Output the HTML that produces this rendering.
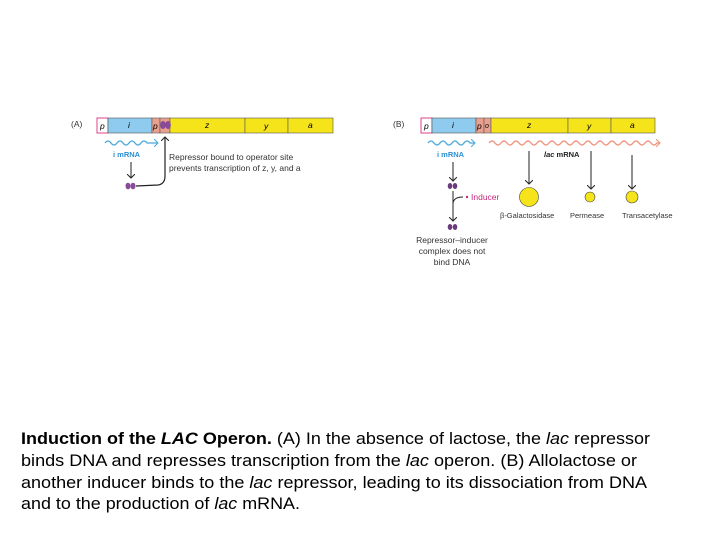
<!DOCTYPE html>
<html><head><meta charset="utf-8"><style>
html,body{margin:0;padding:0;background:#fff;width:720px;height:540px;overflow:hidden}
svg{display:block}
text{font-family:"Liberation Sans",Arial,sans-serif}
</style></head><body>
<svg width="720" height="540" viewBox="0 0 720 540" xmlns="http://www.w3.org/2000/svg">
<defs>
<marker id="ah" markerWidth="8" markerHeight="8" refX="4" refY="4" orient="auto" markerUnits="userSpaceOnUse">
<path d="M0,0 L4,4 L0,8" fill="none" stroke="#222" stroke-width="1"/></marker>
<marker id="ab" markerWidth="8" markerHeight="8" refX="4" refY="4" orient="auto" markerUnits="userSpaceOnUse">
<path d="M0,0 L4,4 L0,8" fill="none" stroke="#4aa8dc" stroke-width="1"/></marker>
<marker id="as" markerWidth="8" markerHeight="8" refX="4" refY="4" orient="auto" markerUnits="userSpaceOnUse">
<path d="M0,0 L4,4 L0,8" fill="none" stroke="#f0907a" stroke-width="1"/></marker>
</defs>
<g font-size="8.5">
<!-- Panel A -->
<text x="71" y="127" fill="#333">(A)</text>
<rect x="97" y="118" width="11" height="15" fill="#fff" stroke="#e0408a"/>
<rect x="108" y="118" width="44" height="15" fill="#8ecbee" stroke="#555" stroke-width="0.6"/>
<rect x="152" y="118" width="8" height="15" fill="#eaa08e" stroke="#555" stroke-width="0.6"/>
<rect x="160" y="118" width="10" height="15" fill="#eaa08e" stroke="#555" stroke-width="0.6"/>
<rect x="170" y="118" width="75" height="15" fill="#f5e41a" stroke="#555" stroke-width="0.6"/>
<rect x="245" y="118" width="43" height="15" fill="#f5e41a" stroke="#555" stroke-width="0.6"/>
<rect x="288" y="118" width="45" height="15" fill="#f5e41a" stroke="#555" stroke-width="0.6"/>
<text x="100" y="129" font-style="italic">p</text><text x="128" y="128" font-style="italic">i</text>
<text x="153" y="129" font-style="italic">p</text>
<ellipse cx="163" cy="125" rx="2.8" ry="4" fill="#8a4a9a"/><ellipse cx="168" cy="125" rx="2.8" ry="4" fill="#8a4a9a"/>
<text x="205" y="128" font-style="italic">z</text><text x="264" y="129" font-style="italic">y</text><text x="308" y="128" font-style="italic">a</text>
<path d="M105,143 q3,-4 6,0 t6,0 t6,0 t6,0 t6,0 t6,0 t6,0 L158,143" fill="none" stroke="#4aa8dc" stroke-width="1.3" marker-end="url(#ab)"/>
<text x="113" y="157" fill="#2a90d0" font-size="7.5" font-weight="bold">i mRNA</text>
<line x1="131" y1="162" x2="131" y2="178" stroke="#222" marker-end="url(#ah)"/>
<ellipse cx="128" cy="186" rx="2.5" ry="3.3" fill="#8a4a9a"/><ellipse cx="133" cy="186" rx="2.5" ry="3.3" fill="#8a4a9a"/>
<path d="M136,186 L158,185 Q165,184 165,176 L165,137" fill="none" stroke="#222" stroke-width="1.2" marker-end="url(#ah)"/>
<text x="169" y="160" fill="#333">Repressor bound to operator site</text>
<text x="169" y="171" fill="#333">prevents transcription of z, y, and a</text>

<!-- Panel B -->
<text x="393" y="127" fill="#333">(B)</text>
<rect x="421" y="118" width="11" height="15" fill="#fff" stroke="#e0408a"/>
<rect x="432" y="118" width="44" height="15" fill="#8ecbee" stroke="#555" stroke-width="0.6"/>
<rect x="476" y="118" width="8" height="15" fill="#eaa08e" stroke="#555" stroke-width="0.6"/>
<rect x="484" y="118" width="7" height="15" fill="#eaa08e" stroke="#555" stroke-width="0.6"/>
<rect x="491" y="118" width="77" height="15" fill="#f5e41a" stroke="#555" stroke-width="0.6"/>
<rect x="568" y="118" width="43" height="15" fill="#f5e41a" stroke="#555" stroke-width="0.6"/>
<rect x="611" y="118" width="44" height="15" fill="#f5e41a" stroke="#555" stroke-width="0.6"/>
<text x="424" y="129" font-style="italic">p</text><text x="452" y="128" font-style="italic">i</text>
<text x="477" y="129" font-style="italic">p</text><text x="485" y="128" font-style="italic" font-size="7">o</text>
<text x="527" y="128" font-style="italic">z</text><text x="587" y="129" font-style="italic">y</text><text x="630" y="128" font-style="italic">a</text>
<path d="M428,143 q3,-4 6,0 t6,0 t6,0 t6,0 t6,0 t6,0 t6,0 L475,143" fill="none" stroke="#4aa8dc" stroke-width="1.3" marker-end="url(#ab)"/>
<path d="M489,143 q3,-4 6,0 t6,0 t6,0 t6,0 t6,0 t6,0 t6,0 t6,0 t6,0 t6,0 t6,0 t6,0 t6,0 t6,0 t6,0 t6,0 t6,0 t6,0 t6,0 t6,0 t6,0 t6,0 t6,0 t6,0 t6,0 t6,0 t6,0 t6,0 L660,143" fill="none" stroke="#f0907a" stroke-width="1.2" marker-end="url(#as)"/>
<text x="437" y="157" fill="#2a90d0" font-size="7.5" font-weight="bold">i mRNA</text>
<text x="544" y="157" fill="#222" font-size="7.5" font-weight="bold"><tspan font-style="italic">lac</tspan> mRNA</text>
<line x1="453" y1="162" x2="453" y2="181" stroke="#222" marker-end="url(#ah)"/>
<ellipse cx="450" cy="186" rx="2.3" ry="3" fill="#6a3a7a"/><ellipse cx="455" cy="186" rx="2.3" ry="3" fill="#6a3a7a"/>
<line x1="453" y1="191" x2="453" y2="221" stroke="#222" marker-end="url(#ah)"/>
<path d="M453,203 Q454,197 463,197" fill="none" stroke="#222"/>
<circle cx="467" cy="197" r="1.2" fill="#c0287a"/>
<text x="471" y="200" fill="#c0287a">Inducer</text>
<ellipse cx="450" cy="227" rx="2.3" ry="3" fill="#6a3a7a"/><ellipse cx="455" cy="227" rx="2.3" ry="3" fill="#6a3a7a"/>
<text x="452" y="243" text-anchor="middle" fill="#333">Repressor–inducer</text>
<text x="452" y="254" text-anchor="middle" fill="#333">complex does not</text>
<text x="452" y="265" text-anchor="middle" fill="#333">bind DNA</text>
<line x1="529" y1="151" x2="529" y2="184" stroke="#222" marker-end="url(#ah)"/>
<circle cx="529" cy="197" r="9.5" fill="#f5e41a" stroke="#444" stroke-width="0.6"/>
<line x1="591" y1="151" x2="591" y2="189" stroke="#222" marker-end="url(#ah)"/>
<circle cx="590" cy="197" r="5" fill="#f5e41a" stroke="#444" stroke-width="0.6"/>
<line x1="632" y1="155" x2="632" y2="189" stroke="#222" marker-end="url(#ah)"/>
<circle cx="632" cy="197" r="6" fill="#f5e41a" stroke="#444" stroke-width="0.6"/>
<text x="500" y="218" fill="#333" font-size="7.5">β-Galactosidase</text>
<text x="570" y="218" fill="#333" font-size="7.5">Permease</text>
<text x="622" y="218" fill="#333" font-size="7.5">Transacetylase</text>
</g>

<g font-size="16.5" fill="#000">
<text x="21" y="444" textLength="629" lengthAdjust="spacingAndGlyphs"><tspan font-weight="bold">Induction of the <tspan font-style="italic">LAC</tspan> Operon.</tspan> (A) In the absence of lactose, the <tspan font-style="italic">lac</tspan> repressor</text>
<text x="21" y="466" textLength="616" lengthAdjust="spacingAndGlyphs">binds DNA and represses transcription from the <tspan font-style="italic">lac</tspan> operon. (B) Allolactose or</text>
<text x="21" y="488" textLength="626" lengthAdjust="spacingAndGlyphs">another inducer binds to the <tspan font-style="italic">lac</tspan> repressor, leading to its dissociation from DNA</text>
<text x="21" y="509" textLength="279" lengthAdjust="spacingAndGlyphs">and to the production of <tspan font-style="italic">lac</tspan> mRNA.</text>
</g>
</svg>
</body></html>
